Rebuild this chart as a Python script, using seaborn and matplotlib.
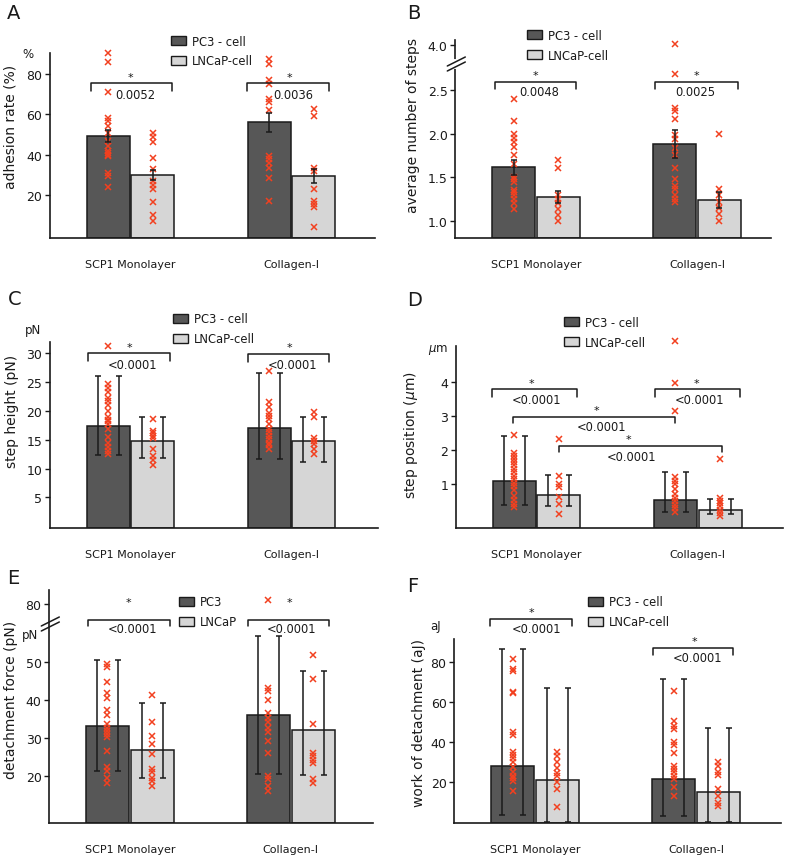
import numpy as np
import pandas as pd
import matplotlib
matplotlib.use("Agg")
import matplotlib.pyplot as plt
import seaborn as sns
from matplotlib.patches import Patch
from matplotlib.lines import Line2D

sns.set_theme(style="white")
plt.rcParams["font.family"] = ["DejaVu Sans"]
plt.rcParams["mathtext.fontset"] = "dejavusans"

SUBSTRATES = ["SCP1 Monolayer", "Collagen-I"]
CELLS = ["PC3", "LNCaP"]
DARK, LIGHT, RED, INK = "#575757", "#d6d6d6", "#f2401f", "#1a1a1a"
W, H, DPI = 788, 862, 100

# every list is in bar order: SCP1/PC3, SCP1/LNCaP, Collagen/PC3, Collagen/LNCaP
A_MEAN = [49.3, 29.7, 56.1, 29.3]
A_SEM = [3.2, 2.4, 4.6, 3.5]
A_POINTS = [
    [90.5, 86, 71, 58.5, 57, 54.5, 51, 47, 44.5, 42, 41, 40, 39.5, 31, 29.5, 24],
    [51, 49, 46.5, 38.5, 33, 27, 25, 23, 16.5, 10, 7],
    [87.5, 85, 77, 75, 67.5, 66, 62, 39.5, 38, 36, 33.5, 28.5, 17],
    [62.5, 59.5, 33.5, 32, 23, 17, 15.5, 14, 4],
]

B_MEAN = [1.612, 1.272, 1.880, 1.237]
B_SEM = [0.086, 0.067, 0.165, 0.09]
B_POINTS = [
    [2.4, 2.15, 2.0, 1.95, 1.9, 1.85, 1.75, 1.65, 1.5, 1.48, 1.45, 1.35, 1.33, 1.3, 1.25, 1.2, 1.13],
    [1.7, 1.6, 1.3, 1.25, 1.2, 1.13, 1.07, 1.0],
    [4.02, 2.68, 2.29, 2.26, 2.17, 1.98, 1.94, 1.84, 1.75, 1.6, 1.48, 1.4, 1.36, 1.3, 1.25, 1.21],
    [2.0, 1.36, 1.3, 1.21, 1.15, 1.08, 1.0],
]

C_MEAN = [17.3, 14.7, 17.0, 14.7]
C_LOW = [12.4, 11.8, 11.6, 11.2]
C_HIGH = [26.1, 18.9, 26.5, 19.0]
C_POINTS = [
    [31.3, 24.7, 23.9, 23.2, 22.3, 21.8, 21.0, 20.0, 18.9, 18.5, 18.2, 17.7, 16.9, 15.5, 14.5, 13.7, 13.1, 12.5],
    [18.6, 16.6, 16.1, 15.7, 15.3, 13.4, 12.2, 11.4, 10.6],
    [27.0, 21.5, 20.6, 19.7, 19.2, 18.6, 17.7, 16.9, 16.3, 15.7, 15.1, 14.5, 14.0, 13.4],
    [19.8, 18.9, 15.3, 14.8, 14.3, 13.4, 12.5],
]

D_MEAN = [1.087, 0.687, 0.541, 0.258]
D_LOW = [0.40, 0.35, 0.19, 0.13]
D_HIGH = [2.42, 1.27, 1.35, 0.57]
D_POINTS = [
    [2.45, 1.92, 1.84, 1.75, 1.65, 1.55, 1.45, 1.35, 1.25, 1.15, 1.05, 0.96, 0.82, 0.67, 0.54, 0.43, 0.33],
    [2.32, 1.25, 1.0, 0.93, 0.62, 0.42, 0.13],
    [5.18, 3.95, 3.13, 1.2, 1.1, 1.0, 0.86, 0.72, 0.6, 0.5, 0.4, 0.3, 0.2],
    [1.74, 0.6, 0.52, 0.45, 0.35, 0.25, 0.15, 0.08],
]

E_MEAN = [33.1, 26.7, 35.9, 32.0]
E_LOW = [21.3, 19.4, 20.6, 20.2]
E_HIGH = [50.4, 39.1, 56.7, 47.7]
E_POINTS = [
    [49.3, 48.5, 44.7, 41.7, 40.6, 37.3, 35.9, 33.6, 32.7, 31.8, 31.0, 30.1, 26.6, 22.2, 21.3, 19.3, 18.1],
    [41.2, 34.1, 30.5, 28.3, 25.7, 21.9, 20.9, 19.3, 18.5, 17.4],
    [84, 43.2, 42.3, 40.0, 36.5, 35.3, 34.2, 32.5, 31.5, 29.2, 26.1, 20.0, 19.1, 17.2, 16.1],
    [51.7, 45.4, 33.6, 26.1, 25.1, 24.2, 23.3, 19.1, 18.0],
]

F_MEAN = [28.3, 21.1, 21.6, 15.3]
F_LOW = [3.9, 0.1, 3.4, 0.1]
F_HIGH = [86.5, 67.1, 71.2, 46.8]
F_POINTS = [
    [81.5, 76.4, 75.5, 65, 64.3, 44.9, 43.7, 34.9, 33.7, 32, 30, 27.4, 25, 23.3, 22, 20.8, 15.8],
    [35.2, 33.2, 30.2, 26.9, 24.6, 23.0, 20.0, 16.7, 7.5],
    [65.6, 50.7, 48.2, 46.5, 40.2, 38.7, 34.4, 28.3, 26.6, 25.0, 23.3, 21.6, 17.5, 13.3],
    [29.9, 28.3, 25.0, 23.6, 16.7, 12.9, 9.5, 8.4],
]

fig = plt.figure(figsize=(W / DPI, H / DPI), dpi=DPI)


def px_rect(left, top, right, bottom):
    return [left / W, 1 - bottom / H, (right - left) / W, (bottom - top) / H]


def ftext(x, y, s, **kw):
    kw.setdefault("color", INK)
    fig.text(x / W, 1 - y / H, s, **kw)


def draw_bars(ax, means, ylim, brk=None):
    df = pd.DataFrame({"substrate": np.repeat(SUBSTRATES, 2), "cell": CELLS * 2, "value": means})
    sns.barplot(data=df, x="substrate", y="value", hue="cell", order=SUBSTRATES, hue_order=CELLS,
                palette=[DARK, LIGHT], saturation=1, width=0.555, gap=0.04, errorbar=None,
                legend=False, edgecolor=INK, linewidth=1.1, ax=ax)
    if brk is not None:
        b, k = brk
        ax.set_yscale("function", functions=(lambda y: np.where(y <= b, y, b + (y - b) * k),
                                             lambda u: np.where(u <= b, u, b + (u - b) / k)))
    ax.set_ylim(*ylim)
    bars = sorted(ax.patches, key=lambda p: p.get_x())
    for p in bars:  # bars sit on the axis floor
        top = p.get_y() + p.get_height()
        p.set_y(ylim[0])
        p.set_height(top - ylim[0])
    return np.array([p.get_x() + p.get_width() / 2 for p in bars])


def draw_points(ax, xs, points):
    for x, pts in zip(xs, points):
        ax.plot([x] * len(pts), pts, ls="none", marker="x", ms=5, mew=1.1, color=RED,
                clip_on=False, zorder=4)


def draw_sem(ax, xs, means, sem):
    ax.errorbar(xs, means, yerr=sem, fmt="none", ecolor=INK, elinewidth=1.1,
                capsize=2.3, capthick=1.1, zorder=5)


def draw_range(ax, xs, means, low, high):
    means = np.array(means)
    yerr = [means - np.array(low), np.array(high) - means]
    for off in (-0.065, 0.065):
        ax.errorbar(xs + off, means, yerr=yerr, fmt="none", ecolor=INK, elinewidth=1.1,
                    capsize=2.2, capthick=1.1, zorder=5)


def bracket(ax, x0, x1, y, y_leg, star_xy, p_xy, text):
    ax.plot([x0, x0, x1, x1], [y_leg, y, y, y_leg], color=INK, lw=1.1, clip_on=False, zorder=6)
    ax.text(*star_xy, "*", ha="center", va="center", fontsize=8, color=INK)
    ax.text(*p_xy, text, ha="center", va="center", fontsize=8.3, color=INK)


def style_axis(ax, width_px, yticks, fmt, ylabel, label_pos):
    ax.set_xlim(-0.5, -0.5 + width_px / 161)
    ax.set_yticks(yticks)
    ax.set_yticklabels([fmt.format(t) for t in yticks])
    ax.set_xlabel("")
    ax.set_ylabel(ylabel, fontsize=10, color=INK)
    ax.yaxis.set_label_coords(*label_pos)
    for s in ("top", "right"):
        ax.spines[s].set_visible(False)
    for s in ("left", "bottom"):
        ax.spines[s].set_linewidth(1.2)
        ax.spines[s].set_color(INK)
    ax.tick_params(axis="y", left=True, direction="out", length=3.6, width=1.0, color=INK,
                   labelsize=9, labelcolor=INK, pad=2)
    ax.tick_params(axis="x", bottom=False, length=0, pad=15, labelsize=8, labelcolor=INK)


def legend(ax, labels, left, row1, handle_w=15):
    fs = 8.3
    fpx = fs * DPI / 72
    handles = [Patch(facecolor=c, edgecolor=INK, linewidth=1.0) for c in (DARK, LIGHT)]
    ax.legend(handles, labels, loc="upper left", bbox_to_anchor=(left / W, 1 - (row1 - 7) / H),
              bbox_transform=fig.transFigure, frameon=False, fontsize=fs, borderpad=0,
              borderaxespad=0, handlelength=handle_w / fpx, handleheight=10 / fpx,
              handletextpad=6 / fpx, labelspacing=0.6, labelcolor=INK)


def break_marks(x, y, gap=False):
    if gap:
        fig.add_artist(Line2D([x / W] * 2, [1 - (y + 3) / H, 1 - (y - 3) / H], color="white", lw=3))
    for dy in (-2.5, 2.5):
        fig.add_artist(Line2D([(x - 8) / W, (x + 10) / W], [1 - (y + dy + 4.5) / H, 1 - (y + dy - 4.5) / H],
                              color=INK, lw=1.1))


# A - adhesion rate
ax = fig.add_axes(px_rect(50, 54.3, 375, 239.3))
xs = draw_bars(ax, A_MEAN, (-1.7, 90.5))
draw_points(ax, xs, A_POINTS)
draw_sem(ax, xs, A_MEAN, A_SEM)
style_axis(ax, 325, [20, 40, 60, 80], "{:g}", "adhesion rate (%)", (-0.099, 0.609))
bracket(ax, -0.248, 0.255, 75.6, 71.9, (0.002, 78.7), (0.032, 70.2), "0.0052")
bracket(ax, 0.724, 1.234, 75.6, 71.9, (0.988, 78.7), (1.013, 70.2), "0.0036")
legend(ax, ["PC3 - cell", "LNCaP-cell"], 170.5, 42.5)
ftext(28, 54, "%", fontsize=8.5, ha="center", va="center")
ftext(7, 19.3, "A", fontsize=14)

# B - number of steps (broken axis)
ax = fig.add_axes(px_rect(455.3, 41, 770.7, 239.3))
xs = draw_bars(ax, B_MEAN, (0.798, 4.30), brk=(2.80, 0.183))
draw_points(ax, xs, B_POINTS)
draw_sem(ax, xs, B_MEAN, B_SEM)
style_axis(ax, 315, [1.0, 1.5, 2.0, 2.5, 4.0], "{:.1f}", "average number of steps", (-0.112, 0.572))
bracket(ax, -0.256, 0.25, 2.596, 2.512, (0.0, 2.67), (0.023, 2.48), "0.0048")
bracket(ax, 0.736, 1.252, 2.596, 2.512, (0.994, 2.67), (0.99, 2.48), "0.0025")
legend(ax, ["PC3 - cell", "LNCaP-cell"], 527.3, 36.7)
break_marks(455.3, 65, gap=True)
ftext(407.3, 19.3, "B", fontsize=14)

# C - step height
ax = fig.add_axes(px_rect(50, 343.3, 378, 528.7))
xs = draw_bars(ax, C_MEAN, (-0.26, 31.9))
draw_points(ax, xs, C_POINTS)
draw_range(ax, xs, C_MEAN, C_LOW, C_HIGH)
style_axis(ax, 328, [5, 10, 15, 20, 25, 30], "{:g}", "step height (pN)", (-0.095, 0.631))
bracket(ax, -0.263, 0.244, 30.0, 28.7, (-0.009, 31.1), (0.011, 28.1), "<0.0001")
bracket(ax, 0.73, 1.234, 29.8, 28.5, (0.988, 31.1), (1.005, 28.1), "<0.0001")
legend(ax, ["PC3 - cell", "LNCaP-cell"], 172.7, 320.5)
ftext(32.5, 330.8, "pN", fontsize=8.5, ha="center", va="center")
ftext(8.3, 305, "C", fontsize=14)

# D - step position
ax = fig.add_axes(px_rect(456, 346.7, 783.3, 528.7))
xs = draw_bars(ax, D_MEAN, (-0.27, 5.05))
draw_points(ax, xs, D_POINTS)
draw_range(ax, xs, D_MEAN, D_LOW, D_HIGH)
style_axis(ax, 327, [1, 2, 3, 4], "{:g}", r"step position ($\mu$m)", (-0.110, 0.515))
bracket(ax, -0.277, 0.25, 3.77, 3.56, (-0.029, 3.95), (0.002, 3.49), "<0.0001")
bracket(ax, 0.732, 1.263, 3.77, 3.56, (0.99, 3.95), (1.009, 3.49), "<0.0001")
bracket(ax, -0.149, 0.86, 2.98, 2.78, (0.374, 3.17), (0.40, 2.68), "<0.0001")
bracket(ax, 0.141, 1.149, 2.13, 1.94, (0.57, 2.32), (0.586, 1.82), "<0.0001")
legend(ax, ["PC3 - cell", "LNCaP-cell"], 564, 323.7)
ftext(438, 350, r"$\mu$m", fontsize=8.5, ha="center", va="center")
ftext(406.7, 305.7, "D", fontsize=14)

# E - detachment force (broken axis)
ax = fig.add_axes(px_rect(49.3, 590.7, 373.3, 824.3))
xs = draw_bars(ax, E_MEAN, (7.5, 93.5), brk=(59.8, 0.272))
draw_points(ax, xs, E_POINTS)
draw_range(ax, xs, E_MEAN, E_LOW, E_HIGH)
style_axis(ax, 324, [20, 30, 40, 50, 80], "{:g}", "detachment force (pN)", (-0.0975, 0.532))
bracket(ax, -0.261, 0.247, 64.6, 59.3, (-0.006, 81.5), (0.014, 58.7), "<0.0001")
bracket(ax, 0.733, 1.236, 64.6, 59.3, (0.99, 81.5), (1.007, 58.7), "<0.0001")
legend(ax, ["PC3", "LNCaP"], 179, 603.3)
break_marks(49.3, 625)
ftext(30, 636, "pN", fontsize=8.5, ha="center", va="center")
ftext(6.7, 584, "E", fontsize=14)

# F - work of detachment
ax = fig.add_axes(px_rect(454.3, 640, 780.7, 824))
xs = draw_bars(ax, F_MEAN, (-0.3, 91.3))
draw_points(ax, xs, F_POINTS)
draw_range(ax, xs, F_MEAN, F_LOW, F_HIGH)
style_axis(ax, 326, [20, 40, 60, 80], "{:g}", "work of detachment (aJ)", (-0.087, 0.547))
bracket(ax, -0.276, 0.23, 101.2, 97.6, (-0.024, 104.9), (0.008, 96.6), "<0.0001")
bracket(ax, 0.732, 1.232, 86.8, 83.3, (0.989, 90.4), (1.009, 82.2), "<0.0001")
legend(ax, ["PC3 - cell", "LNCaP-cell"], 588, 603.3)
ftext(436, 626.7, "aJ", fontsize=8.5, ha="center", va="center")
ftext(406.7, 591.7, "F", fontsize=14)

fig.savefig("out.png", dpi=DPI, facecolor="white")
